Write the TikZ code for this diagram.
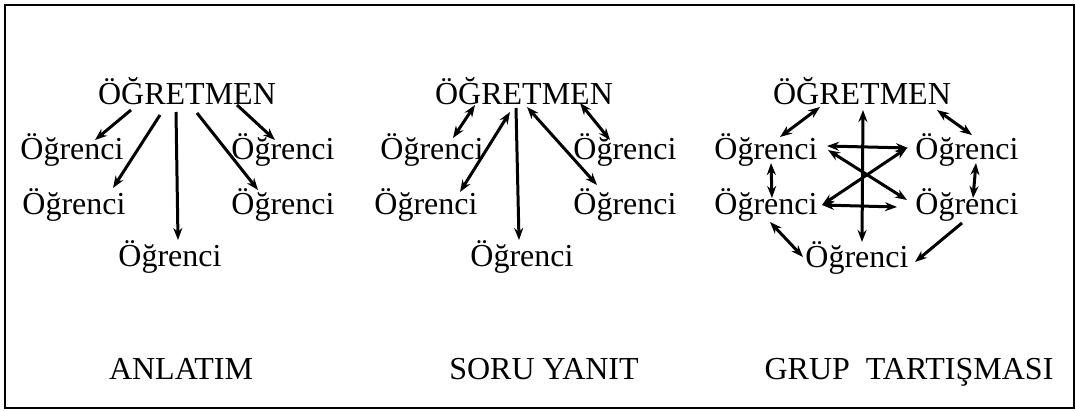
\documentclass[tikz,border=0pt]{standalone}
\usepackage{fontspec}
\setmainfont{Liberation Serif}
\usepackage{tikz}
\usetikzlibrary{arrows.meta}

\begin{document}
\begin{tikzpicture}[x=1pt,y=-1pt, every node/.style={font=\fontsize{32}{38}\selectfont,inner sep=0pt,anchor=base}, arr/.style={-{Stealth[length=12pt,width=9pt]},line width=3pt}, darr/.style={{Stealth[length=12pt,width=9pt]}-{Stealth[length=12pt,width=9pt]},line width=3pt}]
\useasboundingbox (0,0) rectangle (1076,411);
\draw[line width=2.5pt] (5,5) rectangle (1074,408);
% anlatim
\node (t1) at (187,105) {ÖĞRETMEN};
\node (s11) at (72,160) {Öğrenci};\node (s12) at (74,215) {Öğrenci};\node (s13) at (170,267) {Öğrenci};
\node (s14) at (283,160) {Öğrenci};\node (s15) at (283,215) {Öğrenci};
\draw[arr] ([shift={(-56,5)}]t1.base)--([shift={(23,-20)}]s11.base);
\draw[arr] ([shift={(-27,10)}]t1.base)--([shift={(39,-27)}]s12.base);
\draw[arr] ([shift={(-11,7)}]t1.base)--([shift={(8,-27)}]s13.base);
\draw[arr] ([shift={(10,8)}]t1.base)--([shift={(-25,-25)}]s15.base);
\draw[arr] ([shift={(50,0)}]t1.base)--([shift={(-8,-20)}]s14.base);
% soru yanit
\node (t2) at (524,105) {ÖĞRETMEN};
\node (s21) at (432,160) {Öğrenci};\node (s22) at (426,215) {Öğrenci};\node (s23) at (522,267) {Öğrenci};
\node (s24) at (625,160) {Öğrenci};\node (s25) at (625,215) {Öğrenci};
\draw[darr] ([shift={(-49,0)}]t2.base)--([shift={(21,-22)}]s21.base);
\draw[darr] ([shift={(-14,7)}]t2.base)--([shift={(34,-23)}]s22.base);
\draw[arr] ([shift={(-8,3)}]t2.base)--([shift={(-3,-27)}]s23.base);
\draw[darr] ([shift={(3,2)}]t2.base)--([shift={(-28,-30)}]s25.base);
\draw[darr] ([shift={(56,-2)}]t2.base)--([shift={(-15,-20)}]s24.base);
% grup tartismasi
\node (t3) at (862,105) {ÖĞRETMEN};
\node (s31) at (766,160) {Öğrenci};\node (s32) at (967,160) {Öğrenci};
\node (s33) at (766,215) {Öğrenci};\node (s34) at (967,215) {Öğrenci};\node (s35) at (857,268) {Öğrenci};
\draw[darr] ([shift={(-42,2)}]t3.base)--([shift={(14,-23)}]s31.base);
\draw[darr] ([shift={(75,5)}]t3.base)--([shift={(5,-25)}]s32.base);
\draw[darr] ([shift={(1,5)}]t3.base)--([shift={(5,-26)}]s35.base);
\draw[darr] ([shift={(61,-14)}]s31.base)--([shift={(-59,-12)}]s32.base);
\draw[darr] ([shift={(62,-10)}]s31.base)--([shift={(-60,-15)}]s34.base);
\draw[darr] ([shift={(56,-10)}]s33.base)--([shift={(-60,-12)}]s32.base);
\draw[darr] ([shift={(56,-10)}]s33.base)--([shift={(-70,-8)}]s34.base);
\draw[darr] ([shift={(5,3)}]s31.base)--([shift={(6,-17)}]s33.base);
\draw[darr] ([shift={(9,3)}]s32.base)--([shift={(6,-17)}]s34.base);
\draw[darr] ([shift={(4,7)}]s33.base)--([shift={(-54,-11)}]s35.base);
\draw[arr] ([shift={(-5,8)}]s34.base)--([shift={(58,-6)}]s35.base);
% basliklar
\node (l1) at (181,380) {ANLATIM};
\node (l2) at (544,380) {SORU YANIT};
\node (l3) at (909,380) {GRUP\ \ TARTIŞMASI};
\end{tikzpicture}
\end{document}
